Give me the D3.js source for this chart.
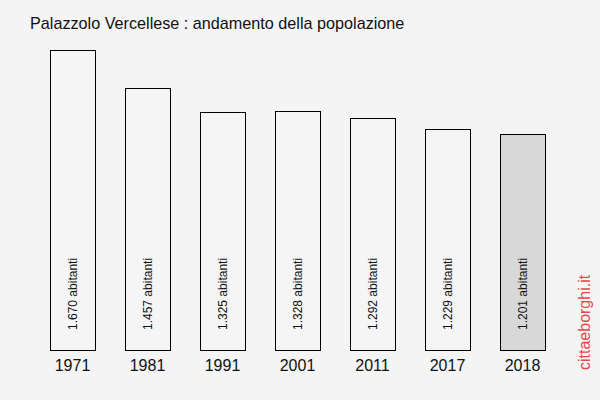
<!DOCTYPE html>
<html>
<head>
<meta charset="utf-8">
<script src="https://cdn.jsdelivr.net/npm/d3@7"></script>
<style>
  body { margin: 0; background: #f4f4f4; }
  svg { font-family: Arial, "Liberation Sans", sans-serif; }
</style>
</head>
<body>
<script>
// Dati della popolazione
const years = ["1971", "1981", "1991", "2001", "2011", "2017", "2018"];
const population = [1670, 1457, 1325, 1328, 1292, 1229, 1201];
const labels = ["1.670 abitanti", "1.457 abitanti", "1.325 abitanti", "1.328 abitanti", "1.292 abitanti", "1.229 abitanti", "1.201 abitanti"];

const width = 600, height = 400;
const baseY = 350;

const svg = d3.select("body").append("svg")
    .attr("width", width)
    .attr("height", height);

svg.append("rect")
    .attr("width", width)
    .attr("height", height)
    .attr("fill", "#f4f4f4");

// Scale
const x = d3.scaleBand()
    .domain(years)
    .range([35, 560])
    .paddingInner(0.4)
    .paddingOuter(0.2);

const y = d3.scaleLinear()
    .domain([0, 1670])
    .range([baseY, 50]);

const data = years.map((yr, i) => ({ year: yr, value: population[i], label: labels[i] }));

// Barre
svg.selectAll("rect.bar")
    .data(data)
    .join("rect")
    .attr("class", "bar")
    .attr("x", d => x(d.year) + 0.5)
    .attr("y", d => Math.round(y(d.value)) + 0.5)
    .attr("width", x.bandwidth())
    .attr("height", d => baseY - Math.round(y(d.value)))
    .attr("fill", (d, i) => i === data.length - 1 ? "#d8d8d8" : "#f5f5f5")
    .attr("stroke", "#000")
    .attr("stroke-width", 1);

// Etichette dentro le barre
svg.selectAll("text.val")
    .data(data)
    .join("text")
    .attr("class", "val")
    .attr("transform", d => `translate(${x(d.year) + x.bandwidth() / 2 + 4},330) rotate(-90)`)
    .attr("font-size", 12)
    .attr("fill", "#111")
    .text(d => d.label);

// Asse x (solo etichette)
svg.selectAll("text.year")
    .data(data)
    .join("text")
    .attr("class", "year")
    .attr("x", d => x(d.year) + x.bandwidth() / 2)
    .attr("y", 371)
    .attr("text-anchor", "middle")
    .attr("font-size", 16)
    .attr("fill", "#111")
    .text(d => d.year);

// Titolo
svg.append("text")
    .attr("x", 30)
    .attr("y", 29)
    .attr("font-size", 16.2)
    .attr("fill", "#111")
    .text("Palazzolo Vercellese : andamento della popolazione");

// Marchio
svg.append("text")
    .attr("transform", "translate(590,370) rotate(-90)")
    .attr("font-size", 16)
    .attr("fill", "#e6474c")
    .text("cittaeborghi.it");
</script>
</body>
</html>
